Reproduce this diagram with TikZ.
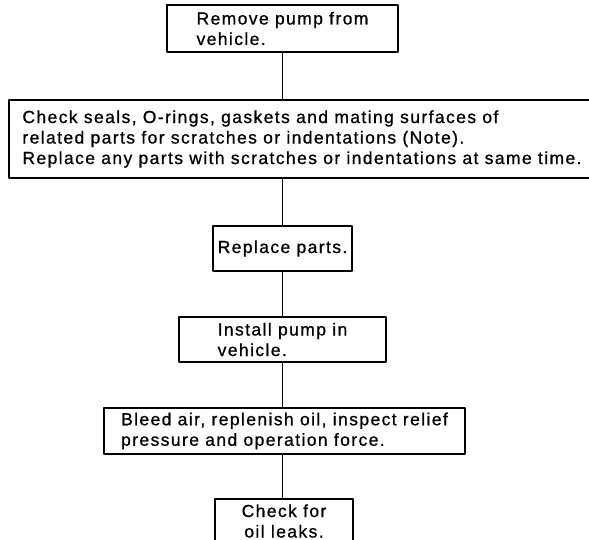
\documentclass[tikz,border=0pt]{standalone}
\usepackage{fontspec}
\setmainfont[LetterSpace=8,FakeBold=0.8]{Liberation Sans}
\begin{document}
\begin{tikzpicture}[x=1pt,y=1pt,line cap=round,line join=round,
	stepbox/.style={draw,line width=1.3pt,align=left,inner sep=0pt,font=\fontsize{17.5}{20.5}\selectfont},
	link/.style={line width=0.9pt}]
	\useasboundingbox (0,0) rectangle (589,-540);
	\clip (0,0) rectangle (589,-540);
	\node[stepbox,minimum width=231,minimum height=47] (remove) at (282.5,-28.5) {Remove pump from\\vehicle.};
	\node[stepbox,minimum width=586,minimum height=78] (check) at (302,-139) {Check seals, O-rings, gaskets and mating surfaces of\\related parts for scratches or indentations (Note).\\Replace any parts with scratches or indentations at same time.};
	\node[stepbox,minimum width=139,minimum height=45] (replace) at (282.5,-248.5) {Replace parts.};
	\node[stepbox,minimum width=207,minimum height=45] (install) at (282.5,-339.5) {Install pump in\\vehicle.};
	\node[stepbox,minimum width=361,minimum height=46] (bleed) at (284.5,-431) {Bleed air, replenish oil, inspect relief\\pressure and operation force.};
	\node[stepbox,align=center,minimum width=138,minimum height=44] (leaks) at (284,-521) {Check for\\oil leaks.};
	\draw[link] (remove.south) -- (remove.south |- check.north)
		(check.south -| remove.south) -- (replace.north)
		(replace.south) -- (install.north)
		(install.south) -- (install.south |- bleed.north)
		(bleed.south -| install.south) -- (leaks.north -| install.south);
\end{tikzpicture}
\end{document}
